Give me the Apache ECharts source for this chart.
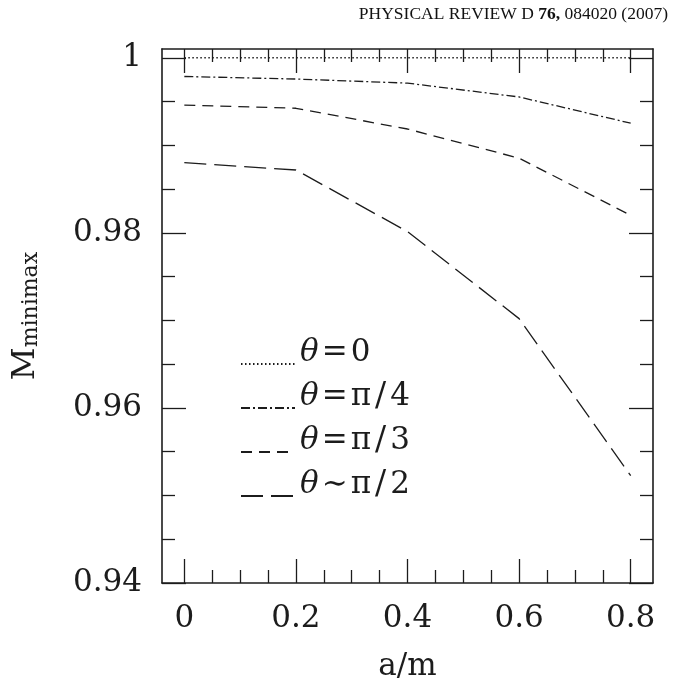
<!DOCTYPE html>
<html>
<head>
<meta charset="utf-8">
<script src="https://cdn.jsdelivr.net/npm/echarts@6/dist/echarts.min.js"></script>
<style>
  html, body { margin: 0; padding: 0; background: #fff; }
  #chart { width: 679px; height: 689px; }
</style>
</head>
<body>
<div id="chart"></div>
<script>
// Spin parameter a/m at which each overlap was computed
const spins = [0, 0.2, 0.4, 0.6, 0.8];

// Minimax match for each inclination angle
const matchTheta0   = [1.0, 1.0, 1.0, 1.0, 1.0];
const matchThetaPi4 = [0.99786, 0.99757, 0.99710, 0.99552, 0.99252];
const matchThetaPi3 = [0.99460, 0.99423, 0.99186, 0.98853, 0.98200];
const matchThetaPi2 = [0.98801, 0.98718, 0.98014, 0.97020, 0.95226];

const seriesNames = ['θ=0', 'θ=π/4', 'θ=π/3', 'θ∼π/2'];

// Axis ticks
const xMajorTicks = [0, 0.2, 0.4, 0.6, 0.8];
const xMinorTicks = [0.05, 0.1, 0.15, 0.25, 0.3, 0.35, 0.45, 0.5, 0.55, 0.65, 0.7, 0.75];
const yMajorTicks = [0.94, 0.96, 0.98, 1.0];
const yMinorTicks = [0.945, 0.95, 0.955, 0.965, 0.97, 0.975, 0.985, 0.99, 0.995];

const X_MIN = -0.04, X_MAX = 0.84;
const Y_MIN = 0.94, Y_MAX = 1.001;

const INK = '#1c1c1c';
const FONT = 'DejaVu Serif';

function pairs(ys) { return spins.map((x, i) => [x, ys[i]]); }

const gridBox = { left: 162, top: 49, width: 491, height: 534 };

function xAxisDef(grid, pos, ticks, len, labels, line) {
  return {
    type: 'value', gridIndex: grid, position: pos, min: X_MIN, max: X_MAX,
    axisLine: { show: line, onZero: false, lineStyle: { color: INK, width: 1.6 } },
    axisTick: { show: true, inside: true, length: len, customValues: ticks,
                lineStyle: { color: INK, width: 1.3 } },
    axisLabel: labels ? { show: true, customValues: xMajorTicks, margin: 20,
                fontFamily: FONT, fontSize: 31, color: INK } : { show: false },
    splitLine: { show: false }
  };
}
function yAxisDef(grid, pos, ticks, len, labels, line) {
  return {
    type: 'value', gridIndex: grid, position: pos, min: Y_MIN, max: Y_MAX,
    axisLine: { show: line, onZero: false, lineStyle: { color: INK, width: 1.6 } },
    axisTick: { show: true, inside: true, length: len, customValues: ticks,
                lineStyle: { color: INK, width: 1.3 } },
    axisLabel: labels ? { show: true, customValues: yMajorTicks, margin: 20,
                fontFamily: FONT, fontSize: 31, color: INK } : { show: false },
    splitLine: { show: false }
  };
}

const xAxes = [
  xAxisDef(0, 'bottom', xMajorTicks, 24, true, true),
  xAxisDef(0, 'top', xMajorTicks, 24, false, true),
  xAxisDef(1, 'bottom', xMinorTicks, 13, false, false),
  xAxisDef(1, 'top', xMinorTicks, 13, false, false)
];
Object.assign(xAxes[0], {
  name: 'a/m', nameLocation: 'middle', nameGap: 68,
  nameTextStyle: { fontFamily: FONT, fontSize: 31, color: INK }
});

const yAxes = [
  yAxisDef(0, 'left', yMajorTicks, 24, true, true),
  yAxisDef(0, 'right', yMajorTicks, 24, false, true),
  yAxisDef(1, 'left', yMinorTicks, 13, false, false),
  yAxisDef(1, 'right', yMinorTicks, 13, false, false)
];
Object.assign(yAxes[0], {
  name: '{m|M}{s|minimax}', nameLocation: 'middle', nameGap: 120, nameRotate: 90,
  nameTextStyle: {
    fontFamily: FONT, color: INK, lineHeight: 40,
    rich: {
      m: { fontFamily: FONT, fontSize: 32, lineHeight: 32, verticalAlign: 'top', color: INK },
      s: { fontFamily: FONT, fontSize: 22, lineHeight: 22, verticalAlign: 'bottom', color: INK }
    }
  }
});

const dashStyles = [[1.5, 2.5], [9, 3, 2, 3], [11, 7], [22, 8]];
const seriesData = [matchTheta0, matchThetaPi4, matchThetaPi3, matchThetaPi2];

const series = seriesNames.map((name, i) => ({
  name: name, type: 'line', xAxisIndex: 0, yAxisIndex: 0,
  data: pairs(seriesData[i]), showSymbol: false, symbol: 'none',
  animation: false, silent: true,
  lineStyle: { color: INK, width: 1.3, type: dashStyles[i] },
  itemStyle: { color: INK }
}));

// Legend labels: italic theta, spaced relation sign and slash
function legendLabel(n) {
  let s = '{i|θ}';
  for (const ch of n.slice(1)) {
    if (ch === '=' || ch === '∼') s += '{op|' + ch + '}';
    else if (ch === '/') s += '{sl|/}';
    else s += '{t|' + ch + '}';
  }
  return s;
}

const TXT = { fontFamily: FONT, fontSize: 31, color: INK, lineHeight: 32 };

const chart = echarts.init(document.getElementById('chart'), null, { renderer: 'canvas' });
chart.setOption({
  animation: false,
  backgroundColor: '#fff',
  grid: [Object.assign({}, gridBox), Object.assign({}, gridBox)],
  xAxis: xAxes,
  yAxis: yAxes,
  legend: {
    orient: 'vertical', left: 240, top: 337, padding: 0,
    itemWidth: 54, itemHeight: 4, itemGap: -10.5,
    selectedMode: false,
    itemStyle: { opacity: 0 },
    data: seriesNames,
    formatter: legendLabel,
    textStyle: Object.assign({}, TXT, {
      padding: [0, 0, 22, 0],
      rich: {
        i: Object.assign({}, TXT, { fontStyle: 'italic' }),
        op: Object.assign({}, TXT, { padding: [0, 3, 0, 3] }),
        sl: Object.assign({}, TXT, { fontSize: 33, padding: [0, 4, 0, 4] }),
        t: Object.assign({}, TXT)
      }
    })
  },
  graphic: [{
    type: 'text', right: 11, top: 5,
    style: {
      text: 'PHYSICAL REVIEW D {b|76,} 084020 (2007)',
      font: '17.5px "Liberation Serif"', fill: '#111',
      rich: { b: { fontFamily: 'Liberation Serif', fontSize: 17.5, fontWeight: 'bold', fill: '#111' } }
    }
  }],
  series: series
});
</script>
</body>
</html>
